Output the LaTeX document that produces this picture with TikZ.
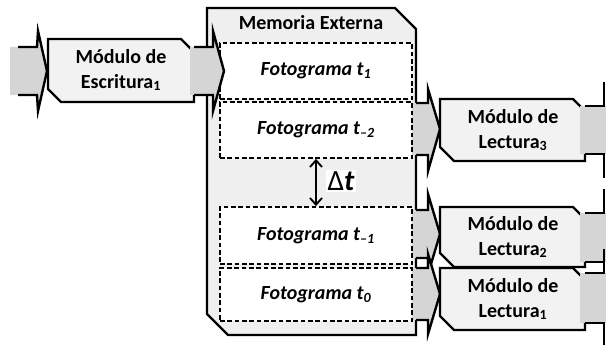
\documentclass[tikz,border=0pt]{standalone}
\usepackage{fontspec}
\setmainfont{Carlito}
\usetikzlibrary{arrows.meta}
\definecolor{shaftgray}{HTML}{D5D5D5}
\definecolor{boxgray}{HTML}{F2F2F2}
\definecolor{memgray}{HTML}{EFEFEF}
\begin{document}
\begin{tikzpicture}[x=0.75pt,y=-0.75pt,
  outl/.style={draw=black,line width=1.8pt,line join=miter},
  boxshape/.style={outl,fill=boxgray},
  memshape/.style={outl,fill=memgray},
  frame/.style={draw=black,line width=1.4pt,dash pattern=on 3.5pt off 2pt,fill=white,
    inner sep=0pt,minimum width=144pt,font=\fontsize{15}{18}\selectfont\bfseries\itshape},
  lbl/.style={font=\fontsize{15}{18.75}\selectfont\bfseries,align=center,inner sep=0pt},
  dtarrow/.style={line width=1.4pt,{Straight Barb[length=5pt,width=9pt]}-{Straight Barb[length=5pt,width=9pt]}}]
\useasboundingbox (0,0) rectangle (606,345);
\clip (0,0) rectangle (606,345);

% memory box
\draw[memshape] (207,8) -- (395,8) -- (416,29) -- (416,335) -- (228,335) -- (207,314) -- cycle;

% reader input arrows (from memory)
\fill[shaftgray] (412,103) -- (428,103) -- (428,89) -- (440,129) -- (428,171) -- (428,155) -- (412,155) -- cycle;
\draw[outl] (416,103) -- (428,103) -- (428,89) -- (440,129) -- (428,171) -- (428,155) -- (416,155);
\fill[shaftgray] (412,210) -- (428,210) -- (428,194) -- (440,234) -- (428,274) -- (428,258) -- (412,258) -- cycle;
\draw[outl] (416,210) -- (428,210) -- (428,194) -- (440,234) -- (428,274) -- (428,258) -- (416,258);
\fill[shaftgray] (412,268) -- (428,268) -- (428,254) -- (440,294) -- (428,334) -- (428,320) -- (412,320) -- cycle;
\draw[outl] (416,268) -- (428,268) -- (428,254) -- (440,294) -- (428,334) -- (428,320) -- (416,320);

% frames
\node[frame,minimum height=42pt] (f1) at (316,71) {Fotograma t\textsubscript{1}};
\node[frame,minimum height=42pt] (f2) at (316,130) {Fotograma t\textsubscript{–2}};
\node[frame,minimum height=42.75pt] (f3) at (316,235.5) {Fotograma t\textsubscript{–1}};
\node[frame,minimum height=39.75pt] (f4) at (316,294.5) {Fotograma t\textsubscript{0}};

\node[lbl] (title) at (311,23) {Memoria Externa};

% delta t
\draw[dtarrow] (f2.south) -- (f3.north);
\node[fill=white,inner sep=1pt,font=\fontsize{22}{22}\selectfont] (dt) at (341,181) {Δ\textbf{\textit{t}}};

% input arrow and writer
\fill[shaftgray] (10,47) -- (37,47) -- (38,31) -- (47,71) -- (38,111) -- (37,95) -- (10,95) -- cycle;
\draw[outl] (18,47) -- (37,47) -- (38,31) -- (47,71) -- (38,111) -- (37,95) -- (18,95);
\draw[boxshape] (48,39) -- (181,39) -- (194,52) -- (194,102) -- (61,102) -- (48,89) -- cycle;
\node[lbl] (wr) at (121,70) {Módulo de\\Escritura\textsubscript{1}};

% writer output arrow into memory
\fill[shaftgray] (190,47) -- (213,47) -- (213,31) -- (224,71) -- (213,111) -- (213,95) -- (190,95) -- cycle;
\draw[outl] (194,47) -- (213,47) -- (213,31) -- (224,71) -- (213,111) -- (213,95) -- (194,95);

% reader 3
\draw[boxshape] (440,99) -- (573,99) -- (585,111) -- (585,161) -- (454,161) -- (440,147) -- cycle;
\fill[shaftgray] (580,106) rectangle (606,154);
\draw[outl] (585,106) -- (604,106) -- (604,82);
\draw[outl] (585,154) -- (604,154) -- (604,178);
\node[lbl] (r3) at (513,130) {Módulo de\\Lectura\textsubscript{3}};

% reader 2
\draw[boxshape] (440,207) -- (573,207) -- (585,219) -- (585,267) -- (454,267) -- (440,253) -- cycle;
\fill[shaftgray] (580,213) rectangle (606,262);
\draw[outl] (585,213) -- (604,213) -- (604,189);
\draw[outl] (585,262) -- (604,262) -- (604,286);
\node[lbl] (r2) at (513,237) {Módulo de\\Lectura\textsubscript{2}};

% reader 1
\draw[boxshape] (440,268) -- (573,268) -- (585,280) -- (585,330) -- (454,330) -- (440,316) -- cycle;
\fill[shaftgray] (580,273) rectangle (606,323);
\draw[outl] (585,273) -- (604,273) -- (604,249);
\draw[outl] (585,323) -- (604,323) -- (604,347);
\node[lbl] (r1) at (513,299) {Módulo de\\Lectura\textsubscript{1}};
\end{tikzpicture}
\end{document}
